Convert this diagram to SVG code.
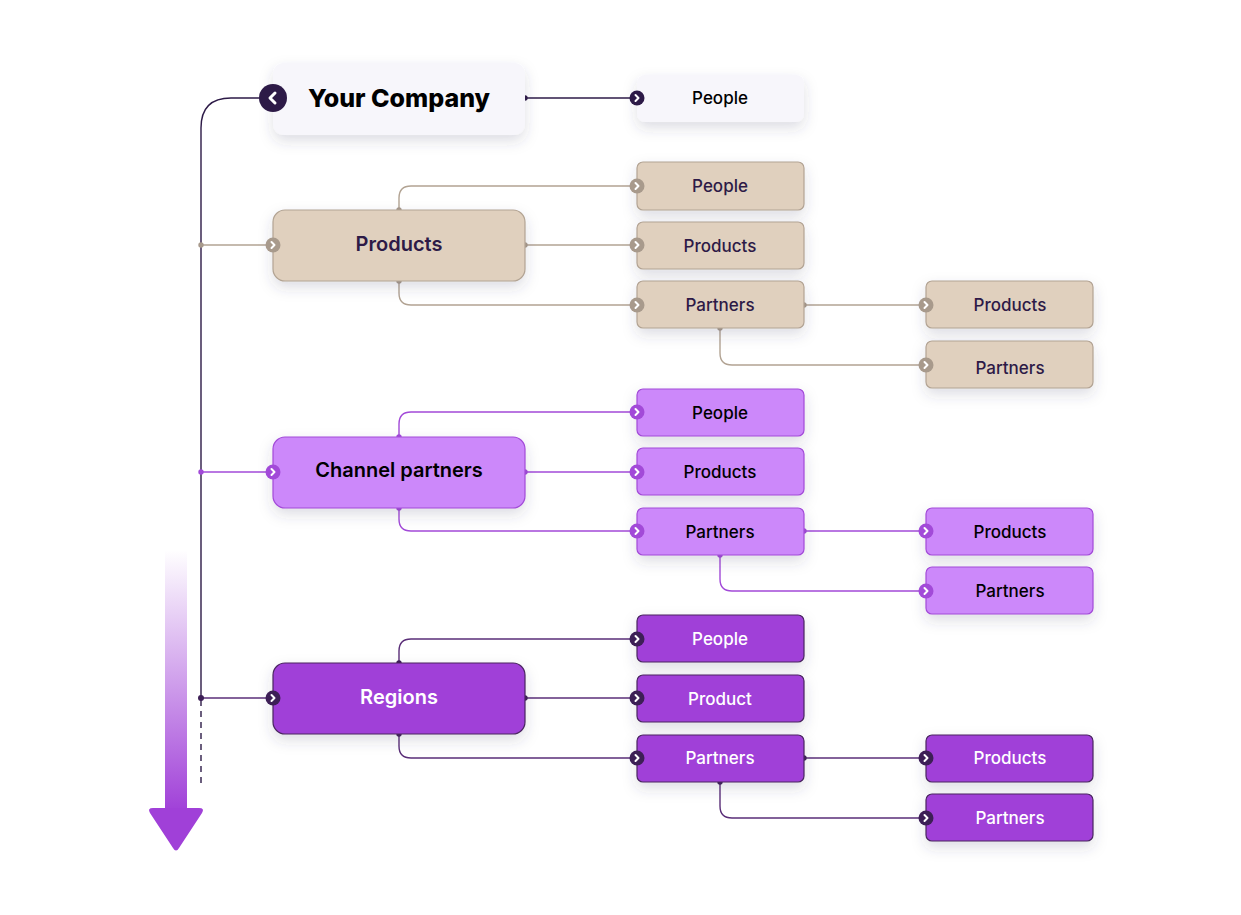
<svg xmlns="http://www.w3.org/2000/svg" width="1241" height="915" viewBox="0 0 1241 915">
<defs>
<filter id="sh" x="-30%" y="-40%" width="160%" height="200%">
<feDropShadow dx="0" dy="6" stdDeviation="7" flood-color="#3a3460" flood-opacity="0.17"/>
</filter>
<linearGradient id="arrowG" x1="0" y1="0" x2="0" y2="1">
<stop offset="0" stop-color="#a040d8" stop-opacity="0"/>
<stop offset="1" stop-color="#a040d8" stop-opacity="1"/>
</linearGradient>
<path id="chev" d="M-1.5,-3 L1.5,0 L-1.5,3" fill="none" stroke="#fff" stroke-width="2" stroke-linecap="round" stroke-linejoin="round"/>
</defs>
<style>
text{font-family:Inter,"Liberation Sans",sans-serif;text-anchor:middle;dominant-baseline:central}
.lbl{font-size:17px;font-weight:500}
.main{font-size:20px;font-weight:600}
.w{fill:#f7f6fb}
.tan{fill:#e0d0be;stroke:#b2a393;stroke-width:1.2}
.lil{fill:#cc88fa;stroke:#a24ad8;stroke-width:1.2}
.pur{fill:#a040d8;stroke:#4a2560;stroke-width:1.2}
.c-tan{stroke:#b2a393}
.c-lil{stroke:#a24ad8}
.c-pur{stroke:#5a2e78}
.c-dk{stroke:#2d1a47}
.conn path,.conn line{fill:none;stroke-width:1.4}
</style>
<rect width="1241" height="915" fill="#fff"/>

<!-- timeline arrow -->
<g id="timeline">
<rect x="165" y="550" width="22" height="262" fill="url(#arrowG)"/>
<path d="M153,808 L199,808 Q205,808 202,813 L179,848 Q176,853 173,848 L150,813 Q147,808 153,808 Z" fill="#a040d8"/>
</g>

<g class="conn" id="connectors">
<path class="c-dk" d="M259,98 H231 Q201,98 201,128 V698" stroke-width="2"/>
<line x1="201" y1="700" x2="201" y2="788" stroke="#2d1a47" stroke-width="1.6" stroke-dasharray="6 5"/>
<line class="c-dk" x1="525" y1="98" x2="637" y2="98"/>
<!-- products -->
<line class="c-tan" x1="201" y1="245" x2="273" y2="245"/>
<path class="c-tan" d="M399,210 V198 Q399,186 411,186 H637"/>
<line class="c-tan" x1="525" y1="245" x2="637" y2="245"/>
<path class="c-tan" d="M399,281 V293 Q399,305 411,305 H637"/>
<line class="c-tan" x1="804" y1="305" x2="926" y2="305"/>
<path class="c-tan" d="M720,328 V353 Q720,365 732,365 H926"/>
<!-- channel -->
<line class="c-lil" x1="201" y1="472" x2="273" y2="472"/>
<path class="c-lil" d="M399,437 V424 Q399,412 411,412 H637"/>
<line class="c-lil" x1="525" y1="472" x2="637" y2="472"/>
<path class="c-lil" d="M399,508 V519 Q399,531 411,531 H637"/>
<line class="c-lil" x1="804" y1="531" x2="926" y2="531"/>
<path class="c-lil" d="M720,555 V579 Q720,591 732,591 H926"/>
<!-- regions -->
<line class="c-pur" x1="201" y1="698" x2="273" y2="698"/>
<path class="c-pur" d="M399,663 V651 Q399,639 411,639 H637"/>
<line class="c-pur" x1="525" y1="698" x2="637" y2="698"/>
<path class="c-pur" d="M399,734 V746 Q399,758 411,758 H637"/>
<line class="c-pur" x1="804" y1="758" x2="926" y2="758"/>
<path class="c-pur" d="M720,782 V806 Q720,818 732,818 H926"/>
<!-- dots -->
<g fill="#2d1a47"><circle cx="525" cy="98" r="2.7"/></g>
<g fill="#a89a8c"><circle cx="201" cy="245" r="2.7"/><circle cx="399" cy="210" r="2.7"/><circle cx="525" cy="245" r="2.7"/><circle cx="399" cy="281" r="2.7"/><circle cx="804" cy="305" r="2.7"/><circle cx="720" cy="328" r="2.7"/></g>
<g fill="#a24ad8"><circle cx="201" cy="472" r="2.7"/><circle cx="399" cy="437" r="2.7"/><circle cx="525" cy="472" r="2.7"/><circle cx="399" cy="508" r="2.7"/><circle cx="804" cy="531" r="2.7"/><circle cx="720" cy="555" r="2.7"/></g>
<g fill="#3d1f56"><circle cx="201" cy="698" r="3"/><circle cx="399" cy="663" r="2.7"/><circle cx="525" cy="698" r="2.7"/><circle cx="399" cy="734" r="2.7"/><circle cx="804" cy="758" r="2.7"/><circle cx="720" cy="782" r="2.7"/></g>
</g>

<!-- Your Company -->
<g id="your-company">
<rect class="w" x="273" y="63" width="252" height="72" rx="11" filter="url(#sh)"/>
<text x="399" y="98" font-size="25" font-weight="800" fill="#000">Your Company</text>
<circle cx="273" cy="98" r="14" fill="#2d1a47"/>
<path d="M275,93 L270,98 L275,103" fill="none" stroke="#fff" stroke-width="3" stroke-linecap="round" stroke-linejoin="round"/>
</g>
<g id="yc-people">
<rect class="w" x="637" y="75" width="167" height="47" rx="8" filter="url(#sh)"/>
<text class="lbl" x="720" y="98" fill="#000">People</text>
<circle cx="637" cy="98" r="7.5" fill="#2d1a47"/><use href="#chev" x="637" y="98"/>
</g>

<!-- Products group -->
<g id="products">
<rect class="tan" x="273" y="210" width="252" height="71" rx="12" filter="url(#sh)"/>
<text class="main" x="399" y="244" fill="#2d1a47">Products</text>
<circle cx="273" cy="245" r="7.5" fill="#a89a8c"/><use href="#chev" x="273" y="245"/>
</g>
<g id="products-people">
<rect class="tan" x="637" y="162" width="167" height="48" rx="6" filter="url(#sh)"/>
<text class="lbl" x="720" y="186" fill="#2d1a47">People</text>
<circle cx="637" cy="186" r="7.5" fill="#a89a8c"/><use href="#chev" x="637" y="186"/>
</g>
<g id="products-products">
<rect class="tan" x="637" y="222" width="167" height="47" rx="6" filter="url(#sh)"/>
<text class="lbl" x="720" y="246" fill="#2d1a47">Products</text>
<circle cx="637" cy="245" r="7.5" fill="#a89a8c"/><use href="#chev" x="637" y="245"/>
</g>
<g id="products-partners">
<rect class="tan" x="637" y="281" width="167" height="47" rx="6" filter="url(#sh)"/>
<text class="lbl" x="720" y="305" fill="#2d1a47">Partners</text>
<circle cx="637" cy="305" r="7.5" fill="#a89a8c"/><use href="#chev" x="637" y="305"/>
</g>
<g id="products-partners-products">
<rect class="tan" x="926" y="281" width="167" height="47" rx="6" filter="url(#sh)"/>
<text class="lbl" x="1010" y="305" fill="#2d1a47">Products</text>
<circle cx="926" cy="305" r="7.5" fill="#a89a8c"/><use href="#chev" x="926" y="305"/>
</g>
<g id="products-partners-partners">
<rect class="tan" x="926" y="341" width="167" height="47" rx="6" filter="url(#sh)"/>
<text class="lbl" x="1010" y="368" fill="#2d1a47">Partners</text>
<circle cx="926" cy="365" r="7.5" fill="#a89a8c"/><use href="#chev" x="926" y="365"/>
</g>

<!-- Channel partners group -->
<g id="channel">
<rect class="lil" x="273" y="437" width="252" height="71" rx="12" filter="url(#sh)"/>
<text class="main" x="399" y="470" fill="#000">Channel partners</text>
<circle cx="273" cy="472" r="7.5" fill="#a24ad8"/><use href="#chev" x="273" y="472"/>
</g>
<g id="channel-people">
<rect class="lil" x="637" y="389" width="167" height="47" rx="6" filter="url(#sh)"/>
<text class="lbl" x="720" y="413" fill="#000">People</text>
<circle cx="637" cy="412" r="7.5" fill="#a24ad8"/><use href="#chev" x="637" y="412"/>
</g>
<g id="channel-products">
<rect class="lil" x="637" y="448" width="167" height="47" rx="6" filter="url(#sh)"/>
<text class="lbl" x="720" y="472" fill="#000">Products</text>
<circle cx="637" cy="472" r="7.5" fill="#a24ad8"/><use href="#chev" x="637" y="472"/>
</g>
<g id="channel-partners">
<rect class="lil" x="637" y="508" width="167" height="47" rx="6" filter="url(#sh)"/>
<text class="lbl" x="720" y="532" fill="#000">Partners</text>
<circle cx="637" cy="531" r="7.5" fill="#a24ad8"/><use href="#chev" x="637" y="531"/>
</g>
<g id="channel-partners-products">
<rect class="lil" x="926" y="508" width="167" height="47" rx="6" filter="url(#sh)"/>
<text class="lbl" x="1010" y="532" fill="#000">Products</text>
<circle cx="926" cy="531" r="7.5" fill="#a24ad8"/><use href="#chev" x="926" y="531"/>
</g>
<g id="channel-partners-partners">
<rect class="lil" x="926" y="567" width="167" height="47" rx="6" filter="url(#sh)"/>
<text class="lbl" x="1010" y="591" fill="#000">Partners</text>
<circle cx="926" cy="591" r="7.5" fill="#a24ad8"/><use href="#chev" x="926" y="591"/>
</g>

<!-- Regions group -->
<g id="regions">
<rect class="pur" x="273" y="663" width="252" height="71" rx="12" filter="url(#sh)"/>
<text class="main" x="399" y="697" fill="#fff" font-weight="500">Regions</text>
<circle cx="273" cy="698" r="7.5" fill="#3d1f56"/><use href="#chev" x="273" y="698"/>
</g>
<g id="regions-people">
<rect class="pur" x="637" y="615" width="167" height="47" rx="6" filter="url(#sh)"/>
<text class="lbl" x="720" y="639" fill="#fff">People</text>
<circle cx="637" cy="639" r="7.5" fill="#3d1f56"/><use href="#chev" x="637" y="639"/>
</g>
<g id="regions-product">
<rect class="pur" x="637" y="675" width="167" height="47" rx="6" filter="url(#sh)"/>
<text class="lbl" x="720" y="699" fill="#fff">Product</text>
<circle cx="637" cy="698" r="7.5" fill="#3d1f56"/><use href="#chev" x="637" y="698"/>
</g>
<g id="regions-partners">
<rect class="pur" x="637" y="735" width="167" height="47" rx="6" filter="url(#sh)"/>
<text class="lbl" x="720" y="758" fill="#fff">Partners</text>
<circle cx="637" cy="758" r="7.5" fill="#3d1f56"/><use href="#chev" x="637" y="758"/>
</g>
<g id="regions-partners-products">
<rect class="pur" x="926" y="735" width="167" height="47" rx="6" filter="url(#sh)"/>
<text class="lbl" x="1010" y="758" fill="#fff">Products</text>
<circle cx="926" cy="758" r="7.5" fill="#3d1f56"/><use href="#chev" x="926" y="758"/>
</g>
<g id="regions-partners-partners">
<rect class="pur" x="926" y="794" width="167" height="47" rx="6" filter="url(#sh)"/>
<text class="lbl" x="1010" y="818" fill="#fff">Partners</text>
<circle cx="926" cy="818" r="7.5" fill="#3d1f56"/><use href="#chev" x="926" y="818"/>
</g>
</svg>
